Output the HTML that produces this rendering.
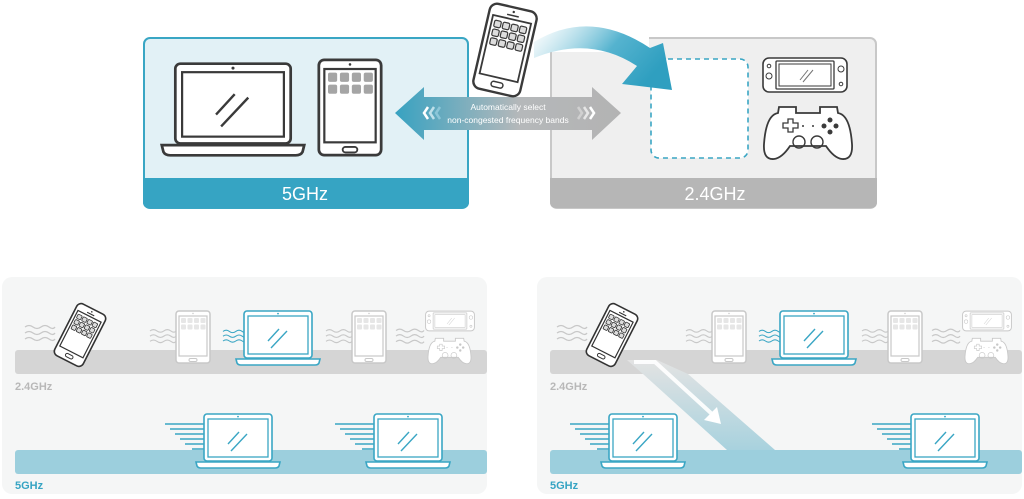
<!DOCTYPE html>
<html><head><meta charset="utf-8"><style>
html,body{margin:0;padding:0;background:#fff;}
svg{display:block;font-family:"Liberation Sans",sans-serif;}
</style></head><body>
<svg width="1024" height="499" viewBox="0 0 1024 499" xmlns="http://www.w3.org/2000/svg">
<defs>
<symbol id="lap" viewBox="0 0 86 56" overflow="visible">
  <rect x="9" y="1" width="68" height="47" rx="3" fill="#fff" stroke="currentColor" stroke-width="1.6"/>
  <rect x="13" y="6" width="60" height="38" fill="#fff" stroke="currentColor" stroke-width="1.3"/>
  <circle cx="43" cy="3.6" r="0.9" fill="currentColor"/>
  <path d="M1,49 H85 L84,53 Q83,55 80,55 H6 Q3,55 2,53Z" fill="#fff" stroke="currentColor" stroke-width="1.6"/>
  <path d="M33,31 L44,19 M36,38 L52,21" stroke="currentColor" stroke-width="1.4" fill="none"/>
</symbol>
<symbol id="tab" viewBox="0 0 36 54" overflow="visible">
  <rect x="1" y="1" width="34" height="52" rx="3" fill="#fff" stroke="currentColor" stroke-width="1.5"/>
  <rect x="4" y="6" width="28" height="40" fill="#fff" stroke="currentColor" stroke-width="1.2"/>
  <circle cx="18" cy="3.5" r="0.7" fill="currentColor"/>
  <rect x="14" y="48.5" width="8" height="3" rx="1.5" fill="none" stroke="currentColor" stroke-width="1"/>
  <g fill="currentColor" opacity="0.45">
  <rect x="6" y="8" width="5" height="5" rx="1"/><rect x="12.5" y="8" width="5" height="5" rx="1"/><rect x="19" y="8" width="5" height="5" rx="1"/><rect x="25.5" y="8" width="5" height="5" rx="1"/>
  <rect x="6" y="14.5" width="5" height="5" rx="1"/><rect x="12.5" y="14.5" width="5" height="5" rx="1"/><rect x="19" y="14.5" width="5" height="5" rx="1"/><rect x="25.5" y="14.5" width="5" height="5" rx="1"/>
  </g>
</symbol>
<symbol id="ph" viewBox="0 0 34 60" overflow="visible">
  <rect x="1" y="1" width="32" height="58" rx="5" fill="#fff" stroke="currentColor" stroke-width="1.6"/>
  <rect x="4" y="9" width="26" height="40" fill="#fff" stroke="currentColor" stroke-width="1.2"/>
  <circle cx="17" cy="4" r="0.8" fill="currentColor"/>
  <rect x="13" y="6" width="8" height="1" fill="currentColor"/>
  <rect x="13" y="52" width="8" height="3.5" rx="1.7" fill="none" stroke="currentColor" stroke-width="1"/>
  <g fill="#ddd" stroke="currentColor" stroke-width="0.8">
  <rect x="6" y="12" width="4.5" height="4.5" rx="1"/><rect x="11.8" y="12" width="4.5" height="4.5" rx="1"/><rect x="17.6" y="12" width="4.5" height="4.5" rx="1"/><rect x="23.4" y="12" width="4.5" height="4.5" rx="1"/>
  <rect x="6" y="18" width="4.5" height="4.5" rx="1"/><rect x="11.8" y="18" width="4.5" height="4.5" rx="1"/><rect x="17.6" y="18" width="4.5" height="4.5" rx="1"/><rect x="23.4" y="18" width="4.5" height="4.5" rx="1"/>
  <rect x="6" y="24" width="4.5" height="4.5" rx="1"/><rect x="11.8" y="24" width="4.5" height="4.5" rx="1"/><rect x="17.6" y="24" width="4.5" height="4.5" rx="1"/><rect x="23.4" y="24" width="4.5" height="4.5" rx="1"/>
  </g>
</symbol>
<symbol id="sw" viewBox="0 0 86 36" overflow="visible">
  <rect x="1" y="1" width="84" height="34" rx="6" fill="#fff" stroke="currentColor" stroke-width="1.6"/>
  <rect x="14" y="4" width="58" height="28" rx="1" fill="#fff" stroke="currentColor" stroke-width="1.3"/>
  <rect x="17" y="7" width="52" height="22" fill="#fff" stroke="currentColor" stroke-width="1"/>
  <path d="M38,23 L46,13 M41,25 L51,13" stroke="currentColor" stroke-width="1" opacity="0.7"/>
  <circle cx="7" cy="9" r="1.8" fill="none" stroke="currentColor"/><circle cx="79" cy="27" r="1.8" fill="none" stroke="currentColor"/>
  <circle cx="7" cy="19" r="3" fill="none" stroke="currentColor"/><circle cx="79" cy="12" r="3" fill="none" stroke="currentColor"/>
</symbol>
<symbol id="pad" viewBox="0 0 88 56" overflow="visible">
  <path d="M14,9 L15,3 H32 V9 H56 V3 H73 L74,9 Q86,11 88,40 Q89,56 78,55 Q70,54 62,42 H26 Q18,54 10,55 Q-1,56 0,40 Q2,11 14,9Z" fill="#fff" stroke="currentColor" stroke-width="1.8"/>
  <path d="M19,19 h5 v-4 h5 v4 h5 v5 h-5 v4 h-5 v-4 h-5z" fill="none" stroke="currentColor" stroke-width="1.3"/>
  <circle cx="35" cy="38" r="6" fill="none" stroke="currentColor" stroke-width="1.4"/>
  <circle cx="53" cy="38" r="6" fill="none" stroke="currentColor" stroke-width="1.4"/>
  <circle cx="39" cy="22" r="1" fill="currentColor"/><circle cx="49" cy="22" r="1" fill="currentColor"/>
  <g fill="currentColor"><circle cx="66" cy="16" r="2.5"/><circle cx="66" cy="28" r="2.5"/><circle cx="60" cy="22" r="2.5"/><circle cx="72" cy="22" r="2.5"/></g>
</symbol>
<symbol id="wave" viewBox="0 0 30 18" overflow="visible">
  <g fill="none" stroke="currentColor" stroke-width="1.3">
  <path d="M0,2 q4,-3 8,0 t8,0 t8,0 t6,0"/><path d="M0,8 q4,-3 8,0 t8,0 t8,0 t6,0"/><path d="M0,14 q4,-3 8,0 t8,0 t8,0 t6,0"/>
  </g>
</symbol>
<symbol id="speed" viewBox="0 0 42 30" overflow="visible">
  <g stroke="currentColor" stroke-width="1.6">
  <path d="M0,1 H42 M5,6 H42 M10,11 H42 M15,16 H42 M20,21 H42 M27,26 H42"/>
  </g>
</symbol>
<linearGradient id="dbl" x1="0" x2="1" y1="0" y2="0">
  <stop offset="0" stop-color="#37a2c1"/><stop offset="0.55" stop-color="#b5b8ba"/><stop offset="1" stop-color="#b3b3b3"/>
</linearGradient>
<linearGradient id="cur" x1="0" x2="1" y1="0" y2="0.4">
  <stop offset="0" stop-color="#ffffff" stop-opacity="0.6"/><stop offset="0.6" stop-color="#55b3cf"/><stop offset="1" stop-color="#2f9fc0"/>
</linearGradient>
<linearGradient id="diag" x1="0" x2="0" y1="0" y2="1">
  <stop offset="0" stop-color="#e3e3e3"/><stop offset="1" stop-color="#a8d2de"/>
</linearGradient>
</defs>

<rect x="144" y="38" width="324" height="170" rx="6" fill="#e2f1f6" stroke="#39a6c4" stroke-width="2"/>
<path d="M143,178 H469 V202 Q469,208 463,208 H149 Q143,208 143,202Z" fill="#36a4c3"/>
<text x="305" y="200" font-size="18" fill="#fff" text-anchor="middle">5GHz</text>
<g color="#3a3a3a">
<use href="#lap" x="160" y="62" width="146" height="95"/>
<use href="#tab" x="317" y="58" width="66" height="99"/>
</g>

<rect x="551" y="38" width="325" height="170" rx="6" fill="#efefef" stroke="#c8c8c8" stroke-width="2"/>
<path d="M550,178 H877 V202 Q877,208 871,208 H556 Q550,208 550,202Z" fill="#b6b6b6"/>
<text x="715" y="200" font-size="18" fill="#fff" text-anchor="middle">2.4GHz</text>
<rect x="651" y="59" width="97" height="99" rx="8" fill="#fff" stroke="#3aa6c4" stroke-width="1.6" stroke-dasharray="5,4"/>
<g color="#3a3a3a">
<use href="#sw" x="762" y="57" width="86" height="36"/>
<use href="#pad" x="764" y="104" width="88" height="56"/>
</g>

<rect x="469" y="30" width="80" height="150" fill="#fff"/>
<rect x="549" y="30" width="100" height="22" fill="#fff"/>
<path d="M551,52 V178" stroke="#c8c8c8" stroke-width="2"/>

<path d="M395,113 L424,87 V97 H592 V87 L621,113 L592,140 V130 H424 V140Z" fill="url(#dbl)"/>
<text x="508" y="110" font-size="8.5" fill="#fff" text-anchor="middle">Automatically select</text>
<text x="508" y="123" font-size="8.5" fill="#fff" text-anchor="middle">non-congested frequency bands</text>
<g fill="none" stroke-width="2.5">
<path d="M428,107 l-4,6 l4,6" stroke="#fff"/><path d="M434,107 l-4,6 l4,6" stroke="#bfe0ea"/><path d="M440,107 l-4,6 l4,6" stroke="#8cc6d8"/>
<path d="M578,107 l4,6 l-4,6" stroke="#d0d0d0"/><path d="M584,107 l4,6 l-4,6" stroke="#e6e6e6"/><path d="M590,107 l4,6 l-4,6" stroke="#fff"/>
</g>

<path d="M534,42 Q590,8 650,48 L663,43 L672,90 L622,84 L637,66 Q590,35 534,58Z" fill="url(#cur)"/>

<g color="#3a3a3a" transform="translate(505,50) rotate(13) scale(1.5) translate(-17,-30)">
<use href="#ph" x="0" y="0" width="34" height="60"/>
</g>

<rect x="2" y="277" width="485" height="217" rx="10" fill="#f5f6f6"/>
<rect x="15" y="350" width="472" height="24" rx="3" fill="#d5d5d5"/>
<rect x="15" y="450" width="472" height="24" rx="3" fill="#9ccfdd"/>
<text x="15" y="390" font-size="11" font-weight="bold" fill="#b8b8b8">2.4GHz</text>
<text x="15" y="489" font-size="11" font-weight="bold" fill="#36a4c3">5GHz</text>
<g color="#c8c8c8">
<use href="#wave" x="25" y="325" width="30" height="18"/>
<use href="#wave" x="150" y="328" width="26" height="18"/>
<use href="#wave" x="326" y="328" width="26" height="18"/>
<use href="#wave" x="396" y="328" width="28" height="18"/>
<use href="#tab" x="175" y="310" width="36" height="54"/>
<use href="#tab" x="351" y="310" width="36" height="54"/>
<use href="#sw" x="425" y="310" width="50" height="22"/>
<use href="#pad" x="428" y="336" width="43" height="29"/>
</g>
<g color="#3aa6c4">
<use href="#wave" x="223" y="328" width="24" height="18"/>
<use href="#lap" x="235" y="310" width="86" height="56"/>
<use href="#speed" x="165" y="423" width="42" height="30"/>
<use href="#speed" x="335" y="423" width="42" height="30"/>
<use href="#lap" x="195" y="413" width="86" height="56"/>
<use href="#lap" x="365" y="413" width="86" height="56"/>
</g>
<g color="#333" transform="translate(80,335) rotate(27) translate(-17,-30)">
<use href="#ph" x="0" y="0" width="34" height="60"/>
</g>

<rect x="537" y="277" width="485" height="217" rx="10" fill="#f5f6f6"/>
<rect x="550" y="350" width="472" height="24" rx="3" fill="#d5d5d5"/>
<rect x="550" y="450" width="472" height="24" rx="3" fill="#9ccfdd"/>
<path d="M627,360 L657,360 L688,374 L775,450 L727,450 L643,374Z" fill="url(#diag)"/>
<path d="M634,362 L655,362 L712,414" stroke="#fff" stroke-width="4" fill="none" opacity="0.9"/>
<path d="M704,420 L721,424 L717,407Z" fill="#fff"/>
<text x="550" y="390" font-size="11" font-weight="bold" fill="#b8b8b8">2.4GHz</text>
<text x="550" y="489" font-size="11" font-weight="bold" fill="#36a4c3">5GHz</text>
<g color="#c8c8c8">
<use href="#wave" x="557" y="325" width="30" height="18"/>
<use href="#wave" x="686" y="328" width="26" height="18"/>
<use href="#wave" x="862" y="328" width="26" height="18"/>
<use href="#wave" x="932" y="328" width="28" height="18"/>
<use href="#tab" x="711" y="310" width="36" height="54"/>
<use href="#tab" x="887" y="310" width="36" height="54"/>
<use href="#sw" x="962" y="310" width="50" height="22"/>
<use href="#pad" x="965" y="336" width="43" height="29"/>
</g>
<g color="#3aa6c4">
<use href="#wave" x="759" y="328" width="24" height="18"/>
<use href="#lap" x="771" y="310" width="86" height="56"/>
<use href="#speed" x="570" y="423" width="42" height="30"/>
<use href="#speed" x="872" y="423" width="42" height="30"/>
<use href="#lap" x="600" y="413" width="86" height="56"/>
<use href="#lap" x="902" y="413" width="86" height="56"/>
</g>
<g color="#333" transform="translate(612,335) rotate(27) translate(-17,-30)">
<use href="#ph" x="0" y="0" width="34" height="60"/>
</g>
</svg>
</body></html>
